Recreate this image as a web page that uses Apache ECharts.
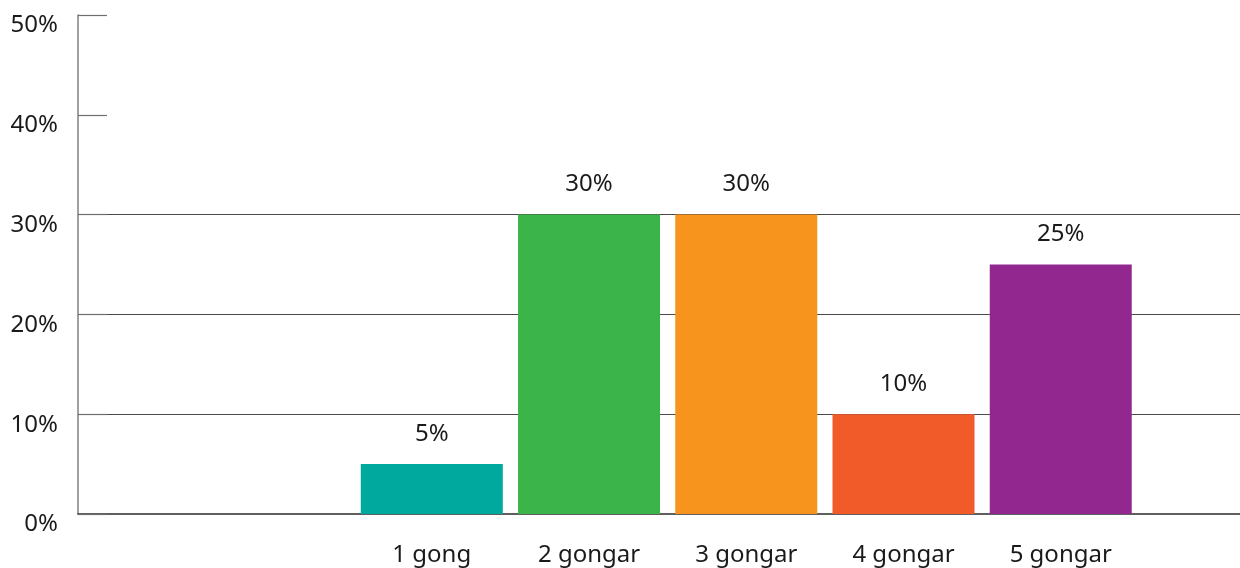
<!DOCTYPE html>
<html>
<head>
<meta charset="utf-8">
<script src="https://cdn.jsdelivr.net/npm/echarts@6/dist/echarts.min.js"></script>
<style>
html,body{margin:0;padding:0;background:#fff;overflow:hidden;}
#chart{width:1240px;height:568px;}
</style>
</head>
<body>
<div id="chart"></div>
<script>
// Data
var categories = ["", "1 gong", "2 gongar", "3 gongar", "4 gongar", "5 gongar"];
var values = [0, 5, 30, 30, 10, 25];
var barColors = ["#00a99d", "#00a99d", "#3bb54a", "#f7941d", "#f15a29", "#92278f"];
var yTicks = [0, 10, 20, 30, 40, 50];

var chart = echarts.init(document.getElementById('chart'), null, {renderer: 'canvas'});
var font = '"Noto Sans", "Open Sans", sans-serif';

var seriesData = values.map(function (v, i) {
  return {
    value: [i, v],
    itemStyle: {color: barColors[i]},
    label: {show: i > 0}
  };
});

chart.setOption({
  animation: false,
  backgroundColor: '#ffffff',
  grid: {left: 78, right: 0, top: 15, bottom: 54, containLabel: false},
  xAxis: {
    type: 'value',
    min: -1.25,
    max: 6.14,
    interval: 0.25,
    axisLine: {show: true, onZero: false, lineStyle: {color: '#2b2b2b', width: 1.5}},
    axisTick: {show: false},
    splitLine: {show: false},
    axisLabel: {
      show: true,
      margin: 29,
      fontSize: 24,
      fontFamily: font,
      color: '#1a1a1a',
      showMaxLabel: false,
      formatter: function (v) {
        if (Math.abs(v - Math.round(v)) < 1e-6) {
          var idx = Math.round(v);
          return categories[idx] || '';
        }
        return '';
      }
    }
  },
  yAxis: {
    type: 'value',
    min: yTicks[0],
    max: yTicks[yTicks.length - 1],
    interval: 10,
    axisLine: {show: true, onZero: false, lineStyle: {color: '#808080', width: 1.5}},
    axisTick: {show: true, inside: true, length: 29, lineStyle: {color: '#6e6e6e', width: 1.2}},
    splitLine: {
      show: true,
      lineStyle: {
        color: ['rgba(0,0,0,0)', '#4a4a4a', '#4a4a4a', '#4a4a4a', 'rgba(0,0,0,0)', 'rgba(0,0,0,0)'],
        width: 1.2
      }
    },
    axisLabel: {
      margin: 20,
      fontSize: 24,
      fontFamily: font,
      color: '#1a1a1a',
      verticalAlign: 'top',
      lineHeight: 21,
      formatter: '{value}%'
    }
  },
  series: [{
    type: 'bar',
    barWidth: 142,
    data: seriesData,
    label: {
      position: 'top',
      distance: 18,
      fontSize: 24,
      fontFamily: font,
      color: '#1a1a1a',
      formatter: function (p) { return p.value[1] + '%'; }
    }
  }]
});
</script>
</body>
</html>
